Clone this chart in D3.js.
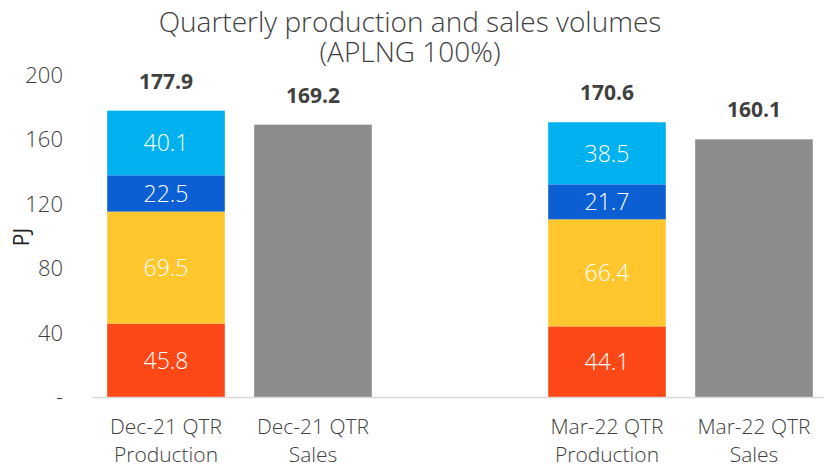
<!DOCTYPE html>
<html>
<head>
<meta charset="utf-8">
<script src="https://cdn.jsdelivr.net/npm/d3@7"></script>
<style>
  body { margin: 0; background: #fff; }
  text { font-family: "Open Sans", "Noto Sans", sans-serif; }
</style>
</head>
<body>
<div id="chart"></div>
<script>
// categories on the x axis, blank one is the gap between the quarters
var categories = ["Dec-21 QTR|Production", "Dec-21 QTR|Sales", "gap", "Mar-22 QTR|Production", "Mar-22 QTR|Sales"]
var prodCats = ["Dec-21 QTR|Production", "Mar-22 QTR|Production"]
var salesCats = ["Dec-21 QTR|Sales", "Mar-22 QTR|Sales"]

// production components, bottom to top
var comp1 = [45.8, 44.1]
var comp2 = [69.5, 66.4]
var comp3 = [22.5, 21.7]
var comp4 = [40.1, 38.5]
var prodTotals = [177.9, 170.6]
var salesTotals = [169.2, 160.1]

var yTicks = [0, 40, 80, 120, 160, 200]
var compColors = ["#FC4817", "#FFC62D", "#0B5FD3", "#00B1F0"]
var salesColor = "#8C8C8C"

var width = 824
height = 468

var svg = d3.select("#chart")
  .append("svg")
  .attr("width", width)
  .attr("height", height)

var x = d3.scaleBand()
  .domain(categories)
  .range([92.5, 827.5])
  .paddingInner(0.2)
  .paddingOuter(0.1)

var y = d3.scaleLinear()
  .domain([0, 200])
  .range([397.5, 75])

// title (two lines)
var title = svg.append("text")
  .attr("text-anchor", "middle")
  .style("font-size", "28px").style("font-weight", 300)
  .attr("fill", "#404040")
title.append("tspan").attr("x", 410).attr("y", 32).text("Quarterly production and sales volumes")
title.append("tspan").attr("x", 410).attr("y", 62).text("(APLNG 100%)")

// y axis labels
var yAxis = svg.append("g")
  .attr("transform", "translate(63,0)")
  .call(d3.axisLeft(y).tickValues(yTicks).tickSize(0).tickPadding(0)
    .tickFormat(function (d) { return d == 0 ? "-  " : d }))
yAxis.select(".domain").remove()
yAxis.selectAll("text")
  .attr("fill", "#404040")
  .style("font-size", "22px")
  .style("font-weight", 300)
  .style("font-family", "'Open Sans', 'Noto Sans', sans-serif")

svg.append("text")
  .attr("transform", "translate(29,237) rotate(-90)")
  .attr("text-anchor", "middle")
  .style("font-size", "21px")
  .attr("fill", "#222")
  .text("PJ")

// stacked production bars
var rows = prodCats.map(function (c, i) {
  return { cat: c, c1: comp1[i], c2: comp2[i], c3: comp3[i], c4: comp4[i] }
})
var stack = d3.stack().keys(["c1", "c2", "c3", "c4"])
var layers = stack(rows)

layers.forEach(function (layer, li) {
  var g = svg.append("g")
  g.selectAll("rect")
    .data(layer)
    .enter()
    .append("rect")
    .attr("x", function (d) { return x(d.data.cat) })
    .attr("width", x.bandwidth())
    .attr("y", function (d) { return y(d[1]) })
    .attr("height", function (d) { return y(d[0]) - y(d[1]) })
    .attr("fill", compColors[li])
  g.selectAll("text")
    .data(layer)
    .enter()
    .append("text")
    .attr("x", function (d) { return x(d.data.cat) + x.bandwidth() / 2 })
    .attr("y", function (d) { return (y(d[0]) + y(d[1])) / 2 })
    .attr("dy", "0.36em")
    .attr("text-anchor", "middle")
    .attr("fill", "#fff")
    .style("font-size", "23px")
    .style("font-weight", 300)
    .text(function (d) { return (d[1] - d[0]).toFixed(1) })
})

// sales bars
svg.selectAll(".sales")
  .data(salesCats)
  .enter()
  .append("rect")
  .attr("x", function (d) { return x(d) })
  .attr("width", x.bandwidth())
  .attr("y", function (d, i) { return y(salesTotals[i]) })
  .attr("height", function (d, i) { return y(0) - y(salesTotals[i]) })
  .attr("fill", salesColor)

// total labels above bars
var totals = prodCats.map(function (c, i) { return { cat: c, v: prodTotals[i] } })
  .concat(salesCats.map(function (c, i) { return { cat: c, v: salesTotals[i] } }))
svg.selectAll(".total")
  .data(totals)
  .enter()
  .append("text")
  .attr("x", function (d) { return x(d.cat) + x.bandwidth() / 2 })
  .attr("y", function (d) { return y(d.v) - 22 })
  .attr("text-anchor", "middle")
  .attr("fill", "#404040")
  .style("font-size", "21px")
  .style("font-weight", "bold")
  .text(function (d) { return d.v.toFixed(1) })

// baseline
svg.append("line")
  .attr("x1", 92).attr("x2", width)
  .attr("y1", y(0)).attr("y2", y(0))
  .attr("stroke", "#D9D9D9").attr("stroke-width", 1.5)

// x labels (two lines)
categories.forEach(function (c) {
  if (c == "gap") return;
  var parts = c.split("|")
  var t = svg.append("text")
    .attr("text-anchor", "middle")
    .attr("fill", "#404040")
    .style("font-size", "21px")
    .style("font-weight", 300)
  parts.forEach(function (p, i) {
    t.append("tspan")
      .attr("x", x(c) + x.bandwidth() / 2)
      .attr("y", 434 + i * 28)
      .text(p)
  })
})
</script>
</body>
</html>
